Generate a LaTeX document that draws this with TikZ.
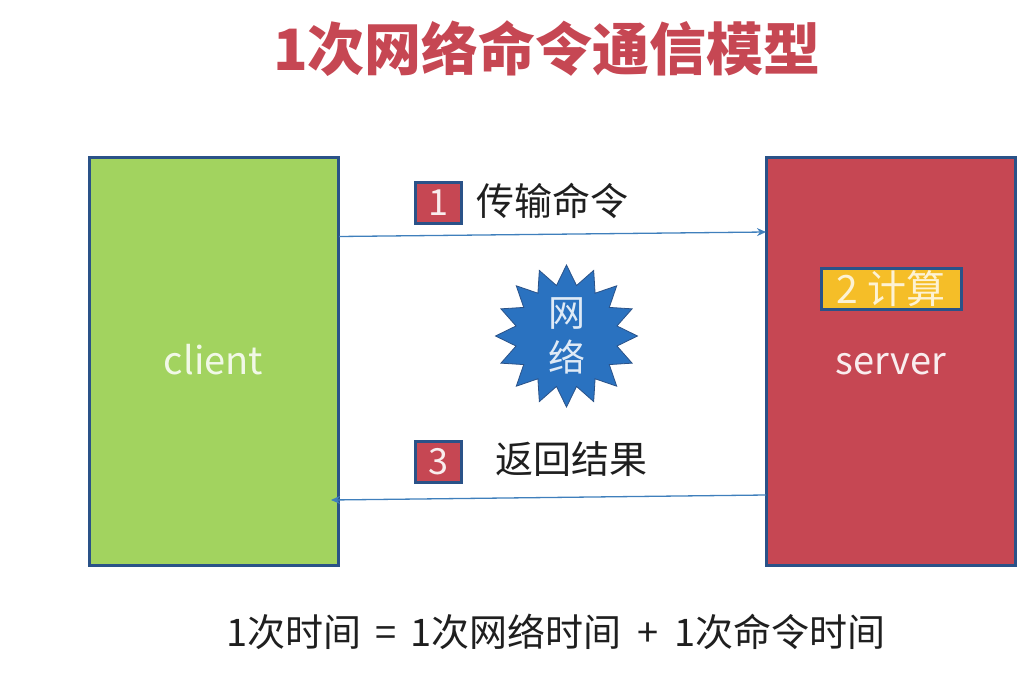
\documentclass[tikz,border=0pt]{standalone}
\usepackage{fontspec}
\setmainfont{Noto Sans CJK SC}
\usepackage{xcolor}
\usetikzlibrary{arrows.meta,shapes.geometric}
\definecolor{hostred}{HTML}{C64753}
\definecolor{hostgreen}{HTML}{A2D35F}
\definecolor{edgeblue}{HTML}{2A5288}
\definecolor{linkblue}{HTML}{3F7FBC}
\definecolor{calcyellow}{HTML}{F5BE28}
\definecolor{burstblue}{HTML}{2A72C0}
\tikzset{
  hostbox/.style={rectangle, draw=edgeblue, line width=3pt, minimum width=249pt, minimum height=407pt,
                  inner sep=0pt, text height=32pt, text depth=6pt, font=\fontsize{38}{42}\selectfont},
  numbox/.style={rectangle, draw=edgeblue, fill=hostred, line width=3pt, minimum width=46pt, minimum height=41pt,
                 inner sep=0pt, text=white!90!hostred, font=\fontsize{36}{40}\selectfont},
  tagtext/.style={inner sep=0pt, text=black!88, font=\fontsize{38}{42}\selectfont},
  flow/.style={-{Stealth[length=9pt,width=8pt]}, draw=linkblue, line width=1.3pt},
}
\begin{document}
\begin{tikzpicture}[x=1pt,y=-1pt]
  \useasboundingbox (0,0) rectangle (1036,690);
  \node[inner sep=0pt, text=hostred, font=\fontsize{57}{62}\selectfont\bfseries] (title) at (547,49) {1次网络命令通信模型};

  \node[hostbox, fill=hostgreen, text=white!85!hostgreen] (client) at (213.5,361.5) {client};
  \node[hostbox, fill=hostred, text=white!90!hostred] (server) at (891,361.5) {server};
  \node[rectangle, draw=edgeblue, fill=calcyellow, line width=3pt, minimum width=140pt, minimum height=41pt,
        inner sep=0pt, text=white!80!calcyellow, font=\fontsize{39}{42}\selectfont] (calc) at (891,289) {2 计算};

  \node[numbox] (stepa) at (438.5,203) {1};
  \node[tagtext] (send) at (552,201) {传输命令};
  \node[numbox] (stepc) at (438.5,462) {3};
  \node[tagtext] (back) at (571,459) {返回结果};

  \node[star, star points=16, star point ratio=1.38, minimum size=142pt, inner sep=-3pt, draw=edgeblue, fill=burstblue,
        line width=0.8pt, align=center, text=white!85!burstblue, font=\fontsize{37}{45}\selectfont] (net) at (566.5,336) {网\\络};

  \coordinate (senda) at (339,236.5);
  \coordinate (sendb) at (766,232);
  \coordinate (backa) at (766,495);
  \coordinate (backb) at (331,500);
  \draw[flow] (senda) -- (sendb);
  \draw[flow] (backa) -- (backb);

  \node[inner sep=0pt, text=black!88, font=\fontsize{38}{42}\selectfont] (sum) at (556,632) {1次时间\hspace{14pt}=\hspace{14pt}1次网络时间\hspace{16pt}+\hspace{16pt}1次命令时间};
\end{tikzpicture}
\end{document}
